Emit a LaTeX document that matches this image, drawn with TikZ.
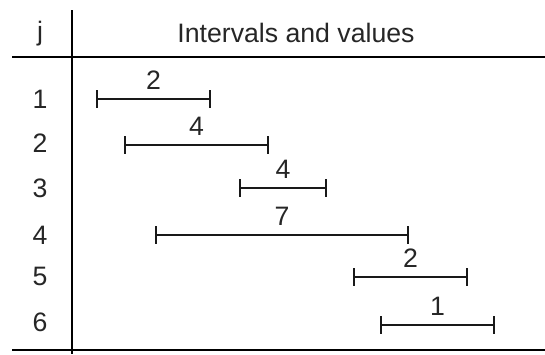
\documentclass[tikz,border=0pt]{standalone}
\usepackage{fontspec}
\setmainfont{Liberation Sans}
\usetikzlibrary{arrows.meta}
\begin{document}
\begin{tikzpicture}[x=0.75pt,y=-0.75pt,
  txt/.style={text=black!85,font=\fontsize{20}{23}\selectfont,inner sep=0pt},
  rule/.style={line width=1.7pt,black},
  interval/.style={line width=1.6pt,black!90,{Bar[width=13pt,line width=1.6pt]}-{Bar[width=13pt,line width=1.6pt]},shorten <=-0.8pt,shorten >=-0.8pt},
  val/.style={txt,above=6pt}]
\useasboundingbox (0,0) rectangle (545,354);
% table rules
\coordinate (vt) at (72,10);
\coordinate (vb) at (72,354);
\coordinate (hl) at (12,57);
\coordinate (hr) at (545,57);
\coordinate (bl) at (12,350);
\coordinate (br) at (545,350);
\draw[rule] (vt) -- (vb);
\draw[rule] (hl) -- (hr);
\draw[rule] (bl) -- (br);
% header
\node[txt] (hj) at (40,34) {j};
\node[txt] (hiv) at (296,33) {Intervals and values};
% row labels
\node[txt] (r1) at (40,99) {1};
\node[txt] (r2) at (40,143) {2};
\node[txt] (r3) at (40,188) {3};
\node[txt] (r4) at (40,235) {4};
\node[txt] (r5) at (40,276) {5};
\node[txt] (r6) at (40,322) {6};
% intervals
\coordinate (s1) at (97,99);  \coordinate (e1) at (210,99);
\coordinate (s2) at (125,145); \coordinate (e2) at (268,145);
\coordinate (s3) at (240,188); \coordinate (e3) at (326,188);
\coordinate (s4) at (156,235); \coordinate (e4) at (408,235);
\coordinate (s5) at (354,277); \coordinate (e5) at (467,277);
\coordinate (s6) at (381,325); \coordinate (e6) at (494,325);
\draw[interval] (s1) -- node[val] (v1) {2} (e1);
\draw[interval] (s2) -- node[val] (v2) {4} (e2);
\draw[interval] (s3) -- node[val] (v3) {4} (e3);
\draw[interval] (s4) -- node[val] (v4) {7} (e4);
\draw[interval] (s5) -- node[val] (v5) {2} (e5);
\draw[interval] (s6) -- node[val] (v6) {1} (e6);
\end{tikzpicture}
\end{document}
